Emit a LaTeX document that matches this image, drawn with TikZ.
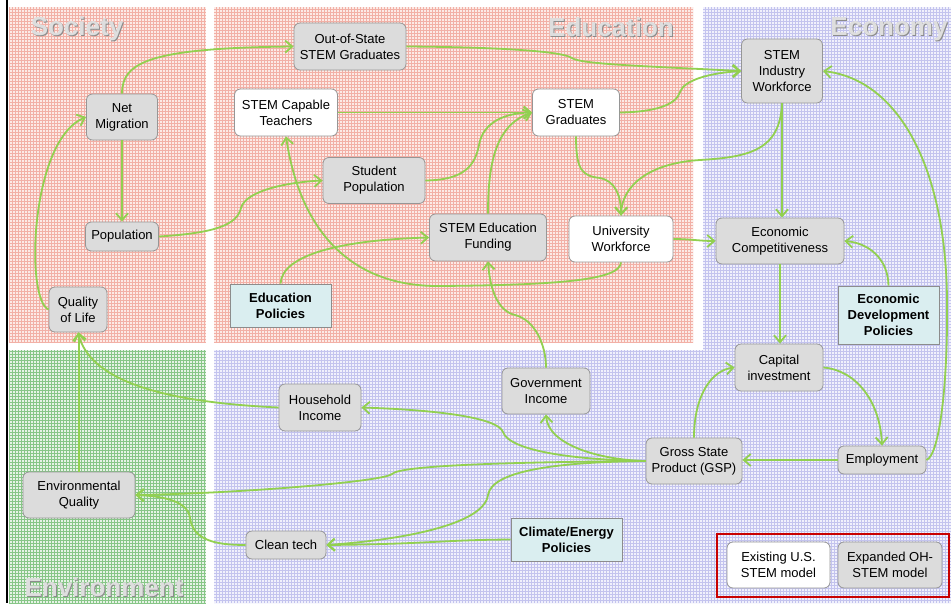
\documentclass[tikz,border=0pt]{standalone}
\usepackage{fontspec}
\setmainfont{Liberation Sans}
\usetikzlibrary{arrows.meta}

\definecolor{lnk}{RGB}{146,208,80}
\definecolor{boxline}{RGB}{150,150,150}
\definecolor{boxgray}{RGB}{220,220,220}
\definecolor{polfill}{RGB}{218,238,240}
\definecolor{polline}{RGB}{140,140,140}
\definecolor{legendred}{RGB}{200,0,0}
\definecolor{pinkbase}{RGB}{252,234,230}
\definecolor{pinkgrid}{RGB}{242,176,166}
\definecolor{bluebase}{RGB}{240,240,252}
\definecolor{bluegrid}{RGB}{195,195,238}
\definecolor{greenbase}{RGB}{230,243,230}
\definecolor{greengrid}{RGB}{135,198,135}
\definecolor{lblface}{RGB}{222,222,222}
\definecolor{lblshade}{RGB}{140,140,140}

\tikzset{
  basebox/.style={draw=boxline, line width=0.8pt, align=center, inner sep=0pt,
    font=\fontsize{13}{16}\selectfont},
  gbox/.style={basebox, fill=boxgray, rounded corners=6pt},
  wbox/.style={basebox, fill=white, rounded corners=6pt},
  pbox/.style={basebox, draw=polline, fill=polfill, font=\fontsize{13}{16}\selectfont\bfseries},
  link/.style={draw=lnk, line width=1.8pt, line join=round,
    -{Straight Barb[length=7pt,width=12pt]}},
  regionface/.style={text=lblface, font=\fontsize{26}{30}\selectfont\bfseries, anchor=base, inner sep=0pt},
  regionshade/.style={text=lblshade, font=\fontsize{26}{30}\selectfont\bfseries, anchor=base, inner sep=0pt},
}

\begin{document}
\begin{tikzpicture}[x=1pt,y=-1pt]
\useasboundingbox (0,0) rectangle (951,603);
\fill[white] (0,0) rectangle (951,603);

% --- shaded regions -------------------------------------------------
\begin{scope}
  \clip (9,7) rectangle (206,343);
  \fill[pinkbase] (9,7) rectangle (206,343);
  \draw[pinkgrid, line width=0.3pt, step=3pt] (9,343) grid (206,7);
\end{scope}
\begin{scope}
  \clip (214,7) rectangle (693,343);
  \fill[pinkbase] (214,7) rectangle (693,343);
  \draw[pinkgrid, line width=0.3pt, step=3pt] (214,343) grid (693,7);
\end{scope}
\begin{scope}
  \clip (214,350) -- (703,350) -- (703,7) -- (951,7) -- (951,603) -- (214,603) -- cycle;
  \fill[bluebase] (214,7) rectangle (951,603);
  \draw[bluegrid, line width=0.3pt, step=3pt] (214,603) grid (951,7);
\end{scope}
\begin{scope}
  \clip (9,350) rectangle (206,603);
  \fill[greenbase] (9,350) rectangle (206,603);
  \draw[greengrid, line width=0.3pt, step=3pt] (9,603) grid (206,350);
\end{scope}
\draw[black, line width=2.5pt] (7,0) -- (7,603);

% --- region titles --------------------------------------------------
\node[regionshade] (socs) at (78,36) {Society};
\node[regionface]  (soc)  at (77,35) {Society};
\node[regionshade] (educs) at (612,37) {Education};
\node[regionface]  (educ)  at (611,36) {Education};
\node[regionshade] (ecos) at (890,36) {Economy};
\node[regionface]  (eco)  at (889,35) {Economy};
\node[regionshade] (envs) at (105,597) {Environment};
\node[regionface]  (env)  at (104,596) {Environment};

% --- nodes ----------------------------------------------------------
\node[gbox, minimum width=71pt,  minimum height=46pt] (nm)   at (122,117)     {Net\\Migration};
\node[gbox, minimum width=112pt, minimum height=47pt] (osg)  at (350,46.5)    {Out-of-State\\STEM Graduates};
\node[wbox, minimum width=103pt, minimum height=47pt] (sct)  at (286,112.5)   {STEM Capable\\Teachers};
\node[wbox, minimum width=87pt,  minimum height=47pt] (sg)   at (576,112.5)   {STEM\\Graduates};
\node[gbox, minimum width=81pt,  minimum height=64pt] (siw)  at (782,71)      {STEM\\Industry\\Workforce};
\node[gbox, minimum width=102pt, minimum height=46pt] (sp)   at (374,180.5)   {Student\\Population};
\node[gbox, minimum width=73pt,  minimum height=29pt] (pop)  at (122,236.5)   {Population};
\node[gbox, minimum width=117pt, minimum height=47pt] (fund) at (488,237.5)   {STEM Education\\Funding};
\node[wbox, minimum width=104pt, minimum height=46pt] (uw)   at (621,239)     {University\\Workforce};
\node[gbox, minimum width=128pt, minimum height=46pt] (ec)   at (780,241)     {Economic\\Competitiveness};
\node[pbox, minimum width=101pt, minimum height=43pt] (ep)   at (280.5,305.5) {Education\\Policies};
\node[gbox, minimum width=58pt,  minimum height=45pt] (qol)  at (78,309.5)    {Quality\\of Life};
\node[pbox, minimum width=101pt, minimum height=58pt] (edp)  at (888.5,315)   {Economic\\Development\\Policies};
\node[gbox, minimum width=88pt,  minimum height=47pt] (ci)   at (779,367.5)   {Capital\\investment};
\node[gbox, minimum width=88pt,  minimum height=46pt] (gi)   at (546,391)     {Government\\Income};
\node[gbox, minimum width=82pt,  minimum height=47pt] (hi)   at (320,407.5)   {Household\\Income};
\node[gbox, minimum width=96pt,  minimum height=46pt] (gsp)  at (694,461)     {Gross State\\Product (GSP)};
\node[gbox, minimum width=88pt,  minimum height=28pt] (emp)  at (882,460)     {Employment};
\node[gbox, minimum width=112pt, minimum height=46pt] (eq)   at (79,495)      {Environmental\\Quality};
\node[gbox, minimum width=80pt,  minimum height=28pt] (ct)   at (286,545)     {Clean tech};
\node[pbox, minimum width=111pt, minimum height=43pt] (cep)  at (566.5,539.5) {Climate/Energy\\Policies};

% legend
\draw[legendred, line width=2pt] (717,534) rectangle (949,597);
\node[wbox, minimum width=103pt, minimum height=46pt] (lgold) at (778.5,565) {Existing U.S.\\STEM model};
\node[gbox, minimum width=104pt, minimum height=46pt] (lgnew) at (890,565)   {Expanded OH-\\STEM model};

% --- connectors -----------------------------------------------------
% society
\draw[link] (nm.north) .. controls (122,62) and (150,48) .. (osg.west);
\draw[link] (qol.west) .. controls (25,300) and (30,140) .. (nm.west);
\draw[link] (nm.south) -- (nm.south |- pop.north);
\draw[link] (pop.east) .. controls (215,233) and (237,225) .. (241,208)
                       .. controls (246,190) and (290,182) .. (sp.west);
% education
\draw[link] (osg.east) .. controls (480,47) and (560,50) .. (572,58)
                       .. controls (580,64) and (640,66) .. (siw.west);
\draw[link] (sct.east) -- (sg.west);
\draw[link] (sg.east) .. controls (655,112) and (676,105) .. (680,92)
                      .. controls (684,80) and (710,73) .. (siw.west);
\draw[link] (sp.east) .. controls (465,180) and (475,165) .. (479,145)
                      .. controls (483,122) and (505,113) .. (sg.west);
\draw[link] (fund.north) .. controls (488,165) and (495,125) .. (sg.west);
\draw[link] (sg.south) .. controls (576,170) and (582,176) .. (600,178)
                       .. controls (615,181) and (621,195) .. (uw.north);
\draw[link] (siw.south) .. controls (780,150) and (750,157) .. (700,160)
                        .. controls (650,163) and (622,185) .. (uw.north);
\draw[link] (uw.east) .. controls (690,239) and (700,241) .. (ec.west);
\draw[link] (uw.south) .. controls (620,280) and (560,285) .. (440,286)
                       .. controls (350,287) and (300,230) .. (sct.south);
\draw[link] (ep.north) .. controls (282,255) and (340,240) .. (fund.west);
\draw[link] (gi.north) .. controls (546,345) and (535,320) .. (515,315)
                       .. controls (498,311) and (490,290) .. (fund.south);
% economy
\draw[link] (siw.south) -- (siw.south |- ec.north);
\draw[link] (ec.south) -- (ec.south |- ci.north);
\draw[link] (edp.north) .. controls (888,258) and (868,243) .. (ec.east);
\draw[link] (ci.east) .. controls (855,370) and (880,400) .. (emp.north);
\draw[link] (emp.east) .. controls (940,455) and (948,380) .. (947,300)
                       .. controls (946,170) and (900,80) .. (siw.east);
\draw[link] (emp.west) -- (emp.west -| gsp.east);
\draw[link] (gsp.north) .. controls (694,395) and (712,370) .. (ci.west);
\draw[link] (gsp.west) .. controls (600,460) and (548,445) .. (gi.south);
\draw[link] (gsp.west) .. controls (580,460) and (510,452) .. (503,432)
                       .. controls (498,418) and (440,410) .. (hi.east);
\draw[link] (gsp.west) .. controls (520,462) and (400,465) .. (392,474)
                       .. controls (385,481) and (250,493) .. (eq.east);
\draw[link] (gsp.west) .. controls (560,462) and (492,470) .. (488,495)
                       .. controls (484,525) and (400,540) .. (ct.east);
\draw[link] (cep.west) .. controls (440,540) and (430,544) .. (ct.east);
% environment
\draw[link] (ct.west) .. controls (215,545) and (193,540) .. (190,518)
                      .. controls (188,500) and (160,496) .. (eq.east);
\draw[link] (hi.west) .. controls (160,402) and (90,380) .. (qol.south);
\draw[link] (eq.north) -- (eq.north |- qol.south);
\end{tikzpicture}
\end{document}
